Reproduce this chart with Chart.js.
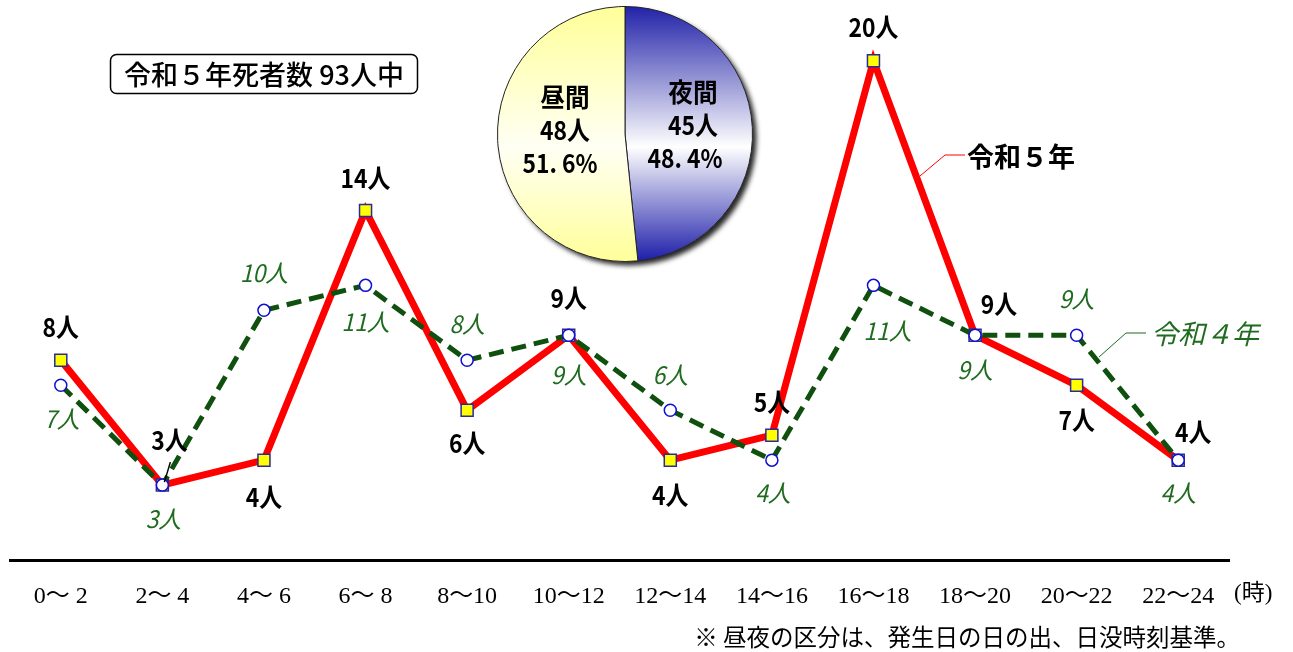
<!DOCTYPE html>
<html lang="ja">
<head>
<meta charset="utf-8">
<script src="https://cdn.jsdelivr.net/npm/chart.js@4.4.1/dist/chart.umd.min.js"></script>
<style>
  html, body { margin: 0; padding: 0; background: #fff; }
  #wrap { position: relative; width: 1293px; height: 652px; overflow: hidden; }
  #main { position: absolute; left: 0; top: 0; }
  #pie { position: absolute; left: 480px; top: 0; }
</style>
</head>
<body>
<div id="wrap">
  <canvas id="main" width="1293" height="652"></canvas>
  <canvas id="pie" width="300" height="270"></canvas>
</div>
<script>
// time bands (hours)
const hourLabels = ['0〜 2', '2〜 4', '4〜 6', '6〜 8', '8〜10', '10〜12', '12〜14', '14〜16', '16〜18', '18〜20', '20〜22', '22〜24'];
// deaths per band
const deathsR5 = [8, 3, 4, 14, 6, 9, 4, 5, 20, 9, 7, 4];
const deathsR4 = [7, 3, 10, 11, 8, 9, 6, 4, 11, 9, 9, 4];
// day / night split
const pieLabels = ['夜間', '昼間'];
const pieValues = [45, 48];
const totalDeaths = 93;

// label placement relative to each point [dx, dy]
const r5LabelPos = [[0, -33], [7, -45], [0, 37], [0, -32], [0, 33], [0, -37], [0, 35], [0, -33], [0, -34], [24, -31], [0, 35], [15, -28]];
const r4LabelPos = [[1, 34], [1, 34], [0, -37], [0, 37], [0, -36], [0, 40], [0, -35], [1, 33], [14, 46], [0, 35], [0, -36], [0, 33]];

const BOLD = 'bold 26px "Noto Sans CJK JP", "Noto Sans", sans-serif';
const ITAL = 'italic 24px "Noto Sans CJK JP", "Noto Sans", sans-serif';

function condensedText(ctx, txt, x, y, sx) {
    ctx.save();
    ctx.translate(x, y);
    ctx.scale(sx, 1);
    ctx.fillText(txt, 0, 0);
    ctx.restore();
}

const annotations = {
    id: 'annotations',
    afterDatasetsDraw(chart) {
        const ctx = chart.ctx;
        const red = chart.getDatasetMeta(0).data;
        const green = chart.getDatasetMeta(1).data;
        ctx.save();
        ctx.textAlign = 'center';
        ctx.textBaseline = 'middle';

        // value labels, R5
        ctx.fillStyle = '#000';
        ctx.font = BOLD;
        red.forEach((pt, i) => {
            const [dx, dy] = r5LabelPos[i];
            condensedText(ctx, deathsR5[i] + '人', pt.x + dx, pt.y + dy, 0.88);
        });
        // leader for the crowded 3人 label
        ctx.strokeStyle = '#000';
        ctx.lineWidth = 1.5;
        ctx.beginPath();
        ctx.moveTo(red[1].x + 8, red[1].y - 23);
        ctx.lineTo(red[1].x + 2, red[1].y - 3);
        ctx.stroke();

        // value labels, R4
        ctx.fillStyle = '#1f6b1f';
        ctx.font = ITAL;
        green.forEach((pt, i) => {
            const [dx, dy] = r4LabelPos[i];
            condensedText(ctx, deathsR4[i] + '人', pt.x + dx, pt.y + dy, 0.95);
        });

        // series callouts
        ctx.lineWidth = 1;
        ctx.strokeStyle = '#ff0000';
        ctx.beginPath();
        ctx.moveTo(920, 176); ctx.lineTo(945, 155); ctx.lineTo(965, 155);
        ctx.stroke();
        ctx.fillStyle = '#000';
        ctx.font = 'bold 27px "Noto Sans CJK JP", sans-serif';
        ctx.textAlign = 'left';
        ctx.fillText('令和５年', 967, 157);

        ctx.strokeStyle = '#1f6b1f';
        ctx.beginPath();
        ctx.moveTo(1099, 357); ctx.lineTo(1126, 333); ctx.lineTo(1146, 333);
        ctx.stroke();
        ctx.fillStyle = '#1f6b1f';
        ctx.font = 'italic 27px "Noto Sans CJK JP", sans-serif';
        ctx.fillText('令和４年', 1151, 334);

        // title box
        ctx.strokeStyle = '#000';
        ctx.lineWidth = 1.5;
        ctx.beginPath();
        ctx.roundRect(110.5, 54.5, 307, 39, 6);
        ctx.stroke();
        ctx.fillStyle = '#000';
        ctx.font = '500 27px "Noto Sans CJK JP", sans-serif';
        ctx.textAlign = 'center';
        ctx.fillText('令和５年死者数 ' + totalDeaths + '人中', 264, 75);

        // unit and footnote
        ctx.font = '23px "Liberation Serif", "Noto Sans CJK JP", serif';
        ctx.textAlign = 'left';
        ctx.fillText('(時)', 1234, 594);
        ctx.font = '23.5px "Noto Sans CJK JP", sans-serif';
        ctx.textAlign = 'right';
        ctx.fillText('※ 昼夜の区分は、発生日の日の出、日没時刻基準。', 1240, 637);
        ctx.restore();
    }
};

new Chart(document.getElementById('main').getContext('2d'), {
    type: 'line',
    data: {
        labels: hourLabels,
        datasets: [
            {
                label: '令和５年',
                data: deathsR5,
                borderColor: '#ff0000',
                borderWidth: 7,
                pointStyle: 'rect',
                pointRadius: 8.5,
                pointBackgroundColor: '#ffff00',
                pointBorderColor: '#2a2a9a',
                pointBorderWidth: 1.5,
                tension: 0,
                order: 2
            },
            {
                label: '令和４年',
                data: deathsR4,
                borderColor: '#0f500f',
                borderWidth: 5,
                borderDash: [15, 8],
                pointStyle: 'circle',
                pointRadius: 6,
                pointBackgroundColor: '#ffffff',
                pointBorderColor: '#1010d0',
                pointBorderWidth: 1.5,
                tension: 0,
                order: 1
            }
        ]
    },
    options: {
        responsive: false,
        animation: false,
        layout: { padding: { left: 9, right: 64, top: 0, bottom: 0 } },
        plugins: { legend: { display: false }, tooltip: { enabled: false } },
        scales: {
            x: {
                offset: true,
                grid: { display: false },
                border: { display: true, color: '#000', width: 3 },
                ticks: {
                    color: '#000',
                    padding: 14,
                    maxRotation: 0,
                    autoSkip: false,
                    font: { family: '"Liberation Serif", "Noto Sans CJK JP", serif', size: 24 }
                },
                afterFit(scale) { scale.height = 92; }
            },
            y: {
                display: false,
                min: 0,
                max: 22.03
            }
        }
    },
    plugins: [annotations]
});

// pie: day / night
const pieShadow = {
    id: 'pieShadow',
    beforeDatasetsDraw(chart) {
        const arc = chart.getDatasetMeta(0).data[0];
        const ctx = chart.ctx;
        ctx.save();
        ctx.shadowColor = 'rgba(0,0,0,0.85)';
        ctx.shadowBlur = 5;
        ctx.shadowOffsetX = 4;
        ctx.shadowOffsetY = 4;
        ctx.fillStyle = '#fff';
        ctx.beginPath();
        ctx.arc(arc.x, arc.y, arc.outerRadius, 0, Math.PI * 2);
        ctx.fill();
        ctx.restore();
    },
    afterDatasetsDraw(chart) {
        const ctx = chart.ctx;
        const pct = pieValues.map(v => (v / totalDeaths * 100).toFixed(1) + '%');
        ctx.save();
        ctx.fillStyle = '#000';
        ctx.font = 'bold 26px "Noto Sans CJK JP", sans-serif';
        ctx.textAlign = 'center';
        ctx.textBaseline = 'middle';
        // day (left)
        condensedText(ctx, pieLabels[1], 85, 97, 0.95);
        condensedText(ctx, pieValues[1] + '人', 85, 130, 0.88);
        condensedText(ctx, pct[1].replace('.', '. '), 80, 163, 0.88);
        // night (right)
        condensedText(ctx, pieLabels[0], 213, 92, 0.95);
        condensedText(ctx, pieValues[0] + '人', 213, 125, 0.88);
        condensedText(ctx, pct[0].replace('.', '. '), 205, 158, 0.88);
        ctx.restore();
    }
};

function pieFill(ctx, i) {
    const area = ctx.chart.chartArea;
    if (!area) return i === 0 ? '#3030b0' : '#ffffa8';
    const g = ctx.chart.ctx.createLinearGradient(0, area.top, 0, area.bottom);
    if (i === 0) {
        g.addColorStop(0, '#2020a8');
        g.addColorStop(0.55, '#ffffff');
        g.addColorStop(1, '#1a1aa8');
    } else {
        g.addColorStop(0, '#ffff98');
        g.addColorStop(0.55, '#fffff4');
        g.addColorStop(1, '#ffff98');
    }
    return g;
}

new Chart(document.getElementById('pie').getContext('2d'), {
    type: 'pie',
    data: {
        labels: pieLabels,
        datasets: [{
            data: pieValues,
            backgroundColor: (ctx) => pieFill(ctx, ctx.dataIndex),
            borderColor: '#222',
            borderWidth: 1
        }]
    },
    options: {
        responsive: false,
        animation: false,
        layout: { padding: { left: 17, right: 27, top: 5, bottom: 7 } },
        plugins: { legend: { display: false }, tooltip: { enabled: false } }
    },
    plugins: [pieShadow]
});
</script>
</body>
</html>
